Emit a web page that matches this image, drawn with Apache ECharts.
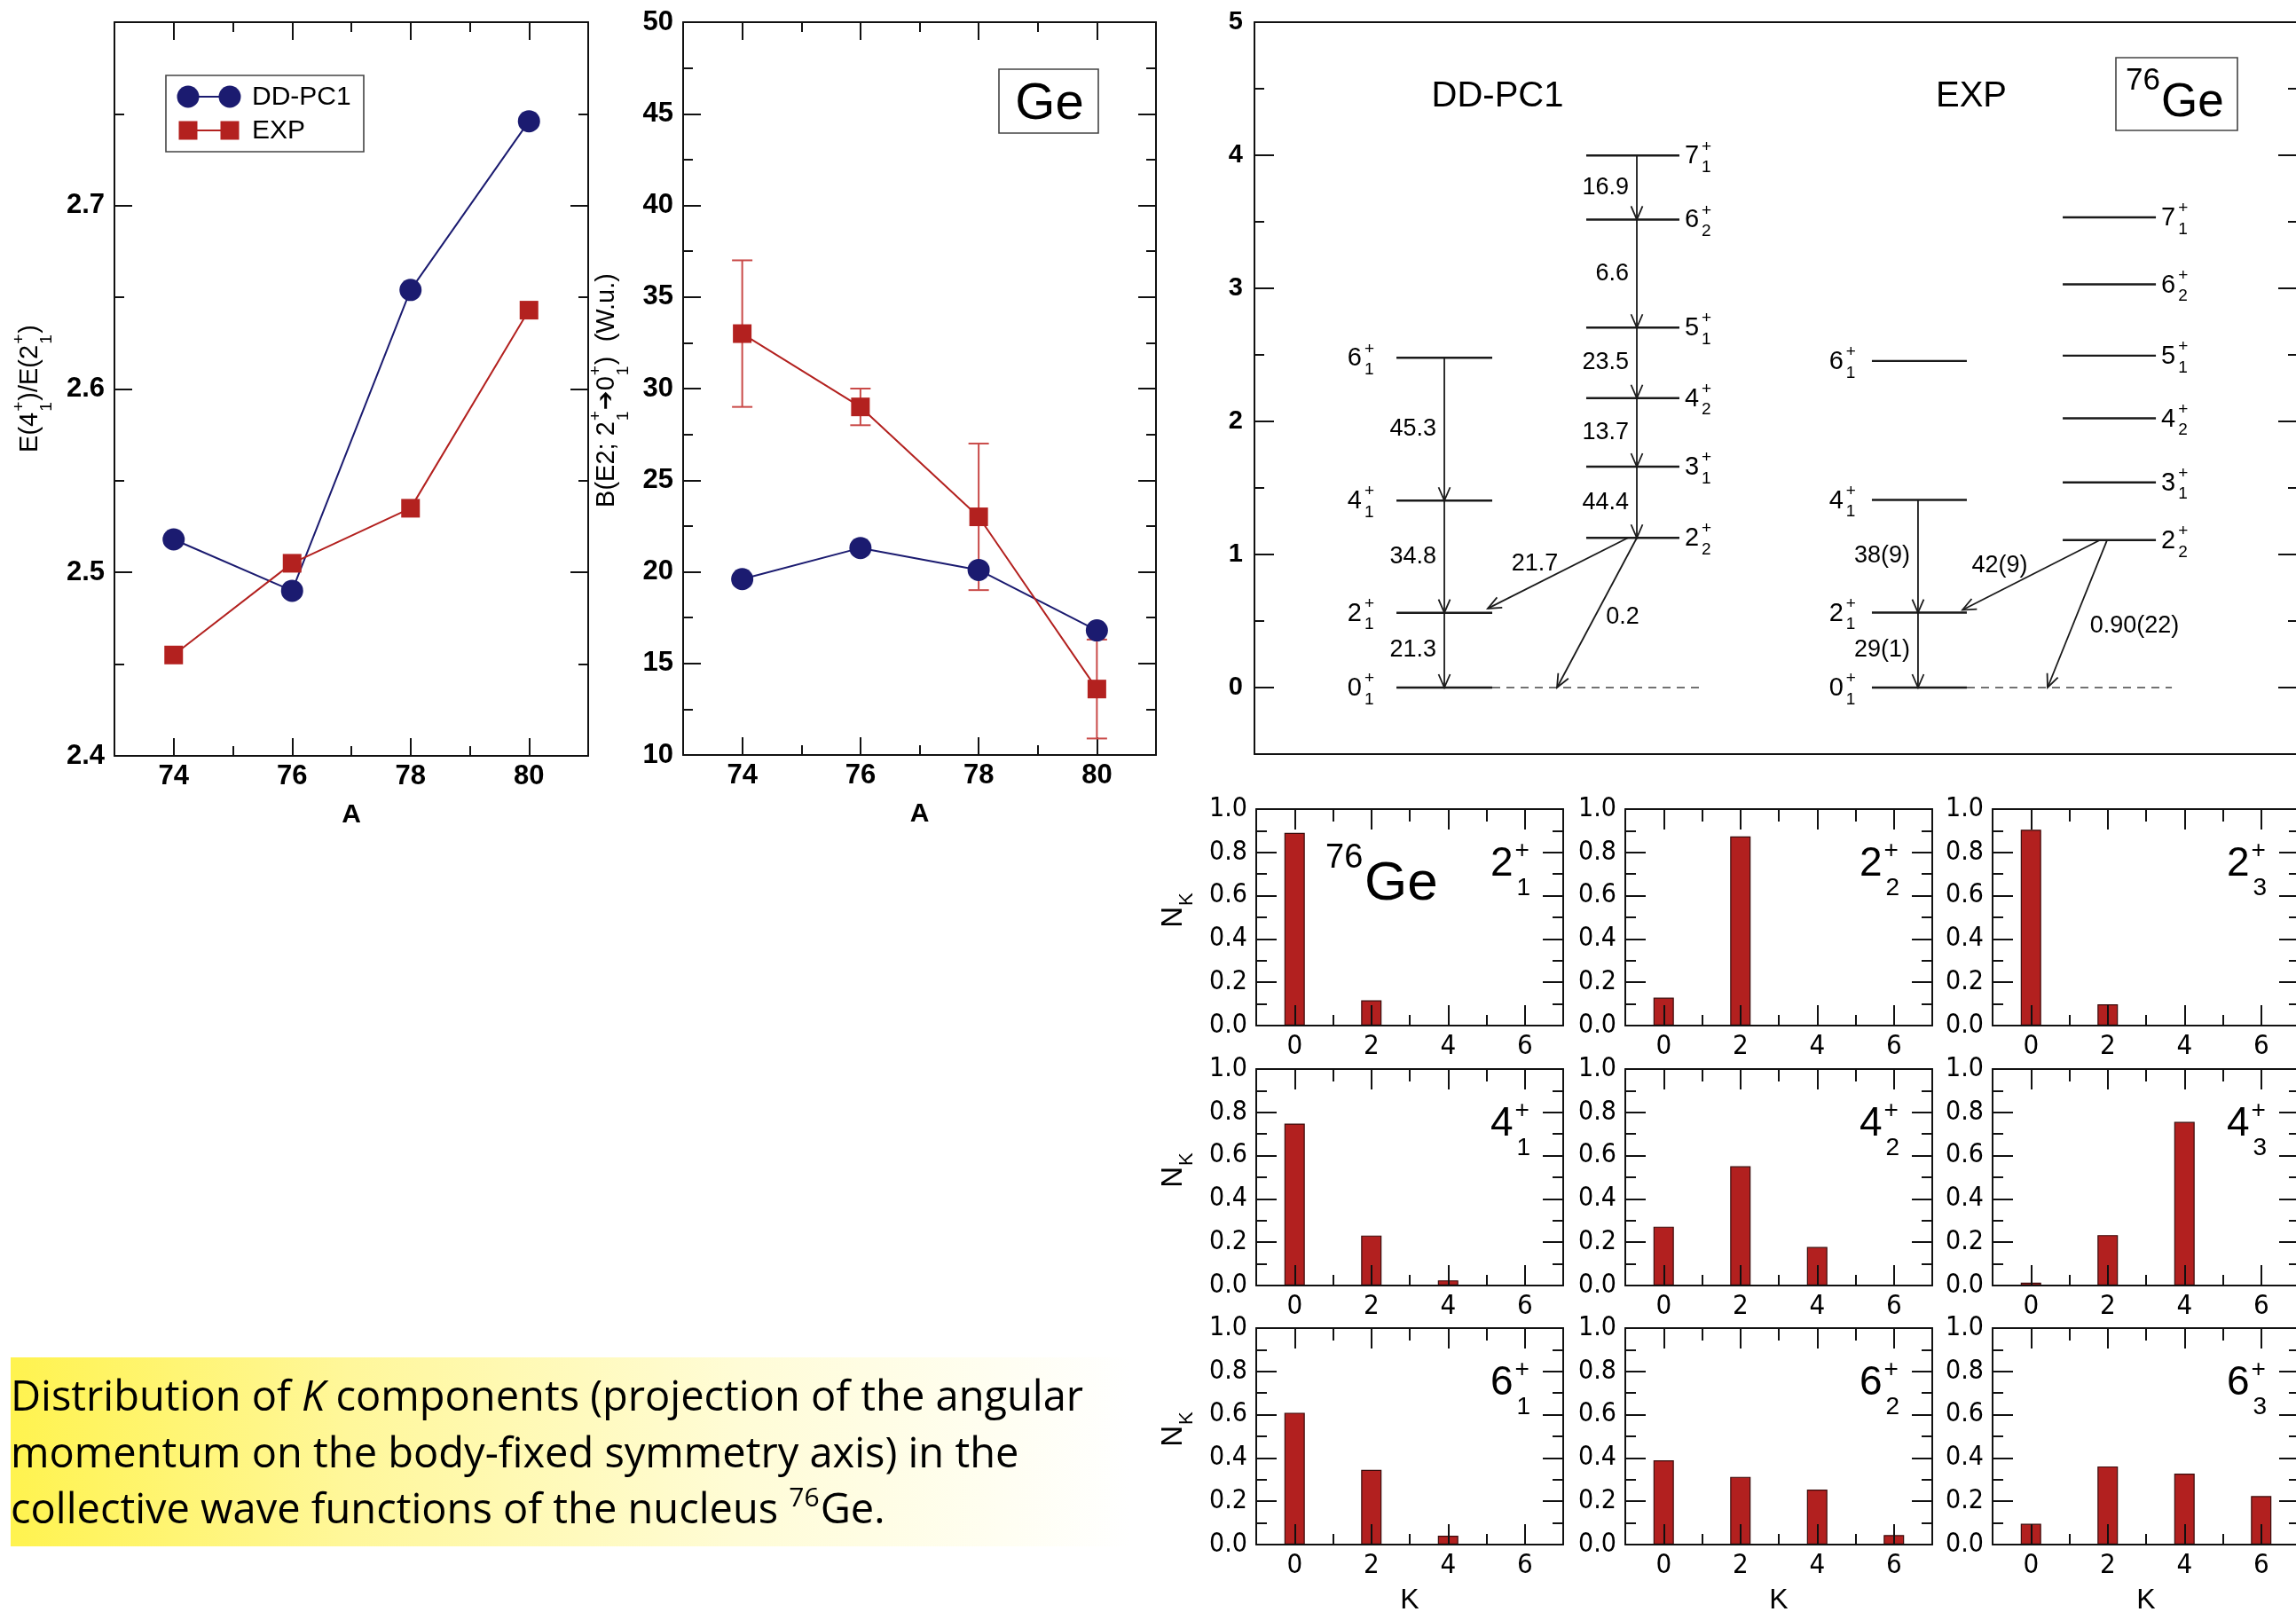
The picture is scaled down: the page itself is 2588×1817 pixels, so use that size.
<!DOCTYPE html>
<html>
<head>
<meta charset="utf-8">
<title>76Ge collective structure</title>
<script src="https://cdn.jsdelivr.net/npm/echarts@6.0.0/dist/echarts.min.js"></script>
<style>
  html, body { margin: 0; padding: 0; background: #ffffff; }
  #chart { width: 2588px; height: 1817px; }
</style>
</head>
<body>
<div id="chart"></div>
<script>
// ---------------- data ----------------
// Ge isotopes
const massNumbers = [74, 76, 78, 80];
// E(4+1)/E(2+1)
const ratioDDPC1 = [2.518, 2.490, 2.654, 2.746];
const ratioEXP   = [2.455, 2.505, 2.535, 2.643];
// B(E2; 2+1 -> 0+1) in W.u.
const be2DDPC1  = [19.6, 21.3, 20.1, 16.8];
const be2EXP    = [33.0, 29.0, 23.0, 13.6];
const be2EXPErr = [4.0, 1.0, 4.0, 2.7];

// tick labels
const massTicks   = [74, 76, 78, 80];
const massMinor   = [75, 77, 79];
const energyTicks = [0, 1, 2, 3, 4, 5];
const energyMinor = [0.5, 1.5, 2.5, 3.5, 4.5];
const kTicks      = [0, 2, 4, 6];
const kMinor      = [1, 3, 5];

// 76Ge spectrum (MeV): ground band and gamma band
const gsbSpins   = ['0', '2', '4', '6'];
const gsbIndex   = ['1', '1', '1', '1'];
const gammaSpins = ['2', '3', '4', '5', '6', '7'];
const gammaIndex = ['2', '1', '2', '1', '2', '1'];
const gsbEnergyDDPC1   = [0, 0.562, 1.405, 2.478];
const gammaEnergyDDPC1 = [1.125, 1.660, 2.175, 2.705, 3.517, 3.998];
const gsbEnergyEXP     = [0, 0.563, 1.410, 2.454];
const gammaEnergyEXP   = [1.108, 1.542, 2.023, 2.494, 3.030, 3.533];
// in-band B(E2) in W.u., each level to the one below it (lowest first)
const gsbBE2DDPC1   = ['21.3', '34.8', '45.3'];
const gammaBE2DDPC1 = ['44.4', '13.7', '23.5', '6.6', '16.9'];
const gsbBE2EXP     = ['29(1)', '38(9)'];
// decays of 2+2: to 2+1 and to 0+1
const interBE2DDPC1 = ['21.7', '0.2'];
const interBE2EXP   = ['42(9)', '0.90(22)'];

// K distributions N_K at K = 0, 2, 4, 6
const kValues = [0, 2, 4, 6];
const nK_2_1 = [0.890, 0.117, 0, 0];
const nK_2_2 = [0.129, 0.874, 0, 0];
const nK_2_3 = [0.905, 0.098, 0, 0];
const nK_4_1 = [0.748, 0.231, 0.024, 0];
const nK_4_2 = [0.272, 0.551, 0.178, 0];
const nK_4_3 = [0.013, 0.233, 0.756, 0];
const nK_6_1 = [0.609, 0.345, 0.041, 0.003];
const nK_6_2 = [0.389, 0.313, 0.254, 0.044];
const nK_6_3 = [0.096, 0.361, 0.328, 0.224];

const kPanels = [
  { values: nK_2_1, spin: '2', index: '1' },
  { values: nK_2_2, spin: '2', index: '2' },
  { values: nK_2_3, spin: '2', index: '3' },
  { values: nK_4_1, spin: '4', index: '1' },
  { values: nK_4_2, spin: '4', index: '2' },
  { values: nK_4_3, spin: '4', index: '3' },
  { values: nK_6_1, spin: '6', index: '1' },
  { values: nK_6_2, spin: '6', index: '2' },
  { values: nK_6_3, spin: '6', index: '3' }
];

// ---------------- styles & layout ----------------
const HEL  = '"Liberation Sans", Arial, Helvetica, sans-serif';
const DJC  = '"DejaVu Sans Condensed", "DejaVu Sans", sans-serif';
const CAPF = '"Open Sans", Lato, sans-serif';
const INK  = '#111111';
const NAVY = '#1b1b70';
const RED  = '#b3211f';
const LINE = { color: INK, width: 2 };

const G_RATIO = { left: 129, top: 25, width: 534, height: 827 };
const G_BE2   = { left: 770, top: 25, width: 533, height: 826 };
const G_LEVEL = { left: 1414, top: 25, width: 1176, height: 825 };
const BAR_LEFT = [1416, 1832, 2246];
const BAR_TOP  = [912, 1205, 1497];
const BAR_W = 346, BAR_H = 244;

// level-scheme columns, as fractions of the panel width
const COLS = {
  thGsb:  { x0: 0.1361, x1: 0.2279, arrow: 0.182,  side: 'left',  gap: 25 },
  thGam:  { x0: 0.3180, x1: 0.4073, arrow: 0.3665, side: 'right', gap: 6 },
  expGsb: { x0: 0.5918, x1: 0.6828, arrow: 0.636,  side: 'left',  gap: 18 },
  expGam: { x0: 0.7747, x1: 0.8640, arrow: 0.82,   side: 'right', gap: 6 }
};
const DASH_TH  = [0.2279, 0.4260];
const DASH_EXP = [0.6828, 0.8793];
// 2+2 decay arrows: start x, end x, end offset above target level, label anchor
const INTER_TH = [
  { x0: 0.358,  x1: 0.2236, lift: 0.032, lx: 0.2687, lE: 0.928 },
  { x0: 0.3665, x1: 0.2900, lift: 0,     lx: 0.3529, lE: 0.527 }
];
const INTER_EXP = [
  { x0: 0.8104, x1: 0.6786, lift: 0.02, lx: 0.7143, lE: 0.915 },
  { x0: 0.8172, x1: 0.7602, lift: 0,    lx: 0.8435, lE: 0.46 }
];

// ---------------- text helpers ----------------
const mctx = document.createElement('canvas').getContext('2d');
function measure(str, size, fam, style, weight) {
  mctx.font = (style || 'normal') + ' normal ' + (weight || 'normal') + ' ' + size + 'px ' + fam;
  return mctx.measureText(str).width;
}
function textEl(str, x, y, size, fam, extra) {
  return {
    type: 'text', x: x, y: y,
    style: Object.assign({ text: str, fill: '#000', fontSize: size, fontFamily: fam,
      align: 'left', verticalAlign: 'middle' }, extra || {})
  };
}
// run of text with stacked super/subscripts
function scriptRun(parts, o) {
  const els = [];
  let x = 0;
  parts.forEach(function (p) {
    if (p.t) {
      const size = p.size || o.size, fam = p.fam || o.fam;
      const fs = p.italic ? 'italic' : 'normal', fw = p.bold ? 'bold' : 'normal';
      els.push(textEl(p.t, x, p.dy || 0, size, fam, { fontStyle: fs, fontWeight: fw }));
      x += measure(p.t, size, fam, fs, fw);
    }
    if (p.sup || p.sub) {
      const s = o.scriptSize;
      let w = 0;
      if (p.sup) {
        els.push(textEl(p.sup, x + o.supDx, o.supDy, s, o.fam));
        w = Math.max(w, o.supDx + measure(p.sup, s, o.fam));
      }
      if (p.sub) {
        els.push(textEl(p.sub, x + o.subDx, o.subDy, s, o.fam));
        w = Math.max(w, o.subDx + measure(p.sub, s, o.fam));
      }
      x += w + (o.after || 0);
    }
  });
  return { els: els, width: x };
}
function place(run, x, y, align) {
  const dx = align === 'right' ? -run.width : (align === 'center' ? -run.width / 2 : 0);
  run.els.forEach(function (e) { e.x += x + dx; e.y += y; });
  return run.els;
}

const LEVEL_TXT = { size: 29, fam: HEL, scriptSize: 19, supDx: 3, supDy: -11, subDx: 3, subDy: 12.5 };
const PANEL_TXT = { size: 46, fam: HEL, scriptSize: 28, supDx: 2, supDy: -15, subDx: 4, subDy: 27 };
const AXNAME_TXT = { size: 29, fam: HEL, scriptSize: 19, supDx: 1, supDy: -12, subDx: 1, subDy: 19, after: 1 };

// ---------------- axes ----------------
const grids = [], xAxis = [], yAxis = [], series = [], graphic = [];

function labelCfg(o) {
  return {
    show: true, customValues: o.labels, margin: o.margin, color: '#000',
    fontSize: o.fontSize, fontFamily: o.fam, fontWeight: o.weight || 'normal', formatter: o.fmt
  };
}
function xFrame(g, min, max, o) {
  const base = { gridIndex: g, type: 'value', min: min, max: max, splitLine: { show: false }, z: o.z || 0 };
  const majorTick = o.major ? { show: true, inside: true, length: o.majorLen, customValues: o.major, lineStyle: LINE } : { show: false };
  const minorTick = { show: true, inside: true, customValues: o.minor, lineStyle: LINE };
  const main = xAxis.length;
  xAxis.push(Object.assign({}, base, {
    position: 'bottom',
    axisLine: { show: true, onZero: false, lineStyle: LINE },
    axisTick: majorTick,
    axisLabel: o.labels ? labelCfg(o) : { show: false },
    name: o.name || '', nameLocation: 'middle', nameGap: o.nameGap || 0,
    nameTextStyle: { color: '#000', fontSize: o.nameSize || 30, fontFamily: o.nameFam || HEL, fontWeight: o.nameWeight || 'normal' }
  }));
  if (o.minor) xAxis.push(Object.assign({}, base, {
    position: 'bottom', axisLine: { show: false, onZero: false },
    axisTick: Object.assign({ length: o.minorLen }, minorTick), axisLabel: { show: false }
  }));
  xAxis.push(Object.assign({}, base, {
    position: 'top', axisLine: { show: true, onZero: false, lineStyle: LINE },
    axisTick: majorTick, axisLabel: { show: false }
  }));
  if (o.minor) xAxis.push(Object.assign({}, base, {
    position: 'top', axisLine: { show: false, onZero: false },
    axisTick: Object.assign({ length: o.topMinorLen || o.minorLen }, minorTick), axisLabel: { show: false }
  }));
  return main;
}
function yFrame(g, min, max, o) {
  const base = { gridIndex: g, type: 'value', min: min, max: max, splitLine: { show: false }, z: o.z || 0 };
  if (o.interval) base.interval = o.interval;
  const majorTick = o.major
    ? { show: true, inside: true, length: o.majorLen, customValues: o.major, lineStyle: LINE }
    : { show: true, inside: true, length: o.majorLen, lineStyle: LINE };
  const minorTick = o.interval
    ? { show: true, splitNumber: 2, length: o.minorLen, lineStyle: LINE }
    : { show: false };
  const main = yAxis.length;
  const mk = function (pos, withLabels) {
    return Object.assign({}, base, {
      position: pos,
      axisLine: { show: true, onZero: false, lineStyle: LINE },
      axisTick: majorTick, minorTick: minorTick,
      axisLabel: withLabels ? labelCfg(o) : { show: false }
    });
  };
  const mkMinor = function (pos) {
    return Object.assign({}, base, {
      position: pos, axisLine: { show: false, onZero: false },
      axisTick: { show: true, inside: true, length: o.minorLen, customValues: o.minor, lineStyle: LINE },
      axisLabel: { show: false }
    });
  };
  yAxis.push(mk('left', true));
  if (o.minor) yAxis.push(mkMinor('left'));
  yAxis.push(mk('right', false));
  if (o.minor) yAxis.push(mkMinor('right'));
  return main;
}
function addGrid(r) {
  grids.push(Object.assign({ outerBoundsMode: 'none', containLabel: false }, r));
  return grids.length - 1;
}

// ---------------- panel: E(4+)/E(2+) ----------------
const gR = addGrid(G_RATIO);
const xR = xFrame(gR, 73, 81, { major: massTicks, minor: massMinor, majorLen: 20, minorLen: 11,
  labels: massTicks, margin: 8, fontSize: 31, fam: HEL, weight: 'bold', name: 'A', nameGap: 52, nameWeight: 'bold' });
const yR = yFrame(gR, 2.4, 2.8, { interval: 0.1, majorLen: 20, minorLen: 11, margin: 11, fontSize: 31, fam: HEL, weight: 'bold',
  fmt: function (v) { return v > 2.75 ? '' : v.toFixed(1); } });
series.push({
  type: 'line', xAxisIndex: xR, yAxisIndex: yR, name: 'DD-PC1',
  data: massNumbers.map(function (a, i) { return [a, ratioDDPC1[i]]; }),
  symbol: 'circle', symbolSize: 25, itemStyle: { color: NAVY }, lineStyle: { color: NAVY, width: 2 }, z: 3
});
series.push({
  type: 'line', xAxisIndex: xR, yAxisIndex: yR, name: 'EXP',
  data: massNumbers.map(function (a, i) { return [a, ratioEXP[i]]; }),
  symbol: 'rect', symbolSize: 21, itemStyle: { color: RED }, lineStyle: { color: RED, width: 2 }, z: 3
});

// ---------------- panel: B(E2) ----------------
const gB = addGrid(G_BE2);
const xB = xFrame(gB, 73, 81, { major: massTicks, minor: massMinor, majorLen: 20, minorLen: 11,
  labels: massTicks, margin: 8, fontSize: 31, fam: HEL, weight: 'bold', name: 'A', nameGap: 52, nameWeight: 'bold' });
const yB = yFrame(gB, 10, 50, { interval: 5, majorLen: 20, minorLen: 11, margin: 11, fontSize: 31, fam: HEL, weight: 'bold',
  fmt: function (v) { return String(Math.round(v)); } });
series.push({
  type: 'custom', xAxisIndex: xB, yAxisIndex: yB, z: 1, clip: false,
  data: massNumbers.map(function (a, i) { return [a, be2EXP[i] - be2EXPErr[i], be2EXP[i] + be2EXPErr[i]]; }),
  encode: { x: 0, y: [1, 2] },
  renderItem: function (params, api) {
    const x = api.value(0);
    const lo = api.coord([x, api.value(1)]), hi = api.coord([x, api.value(2)]);
    const hw = 11.5, st = { stroke: '#c94a48', lineWidth: 2 };
    return { type: 'group', children: [
      { type: 'line', shape: { x1: lo[0], y1: lo[1], x2: hi[0], y2: hi[1] }, style: st },
      { type: 'line', shape: { x1: lo[0] - hw, y1: lo[1], x2: lo[0] + hw, y2: lo[1] }, style: st },
      { type: 'line', shape: { x1: hi[0] - hw, y1: hi[1], x2: hi[0] + hw, y2: hi[1] }, style: st }
    ] };
  }
});
series.push({
  type: 'line', xAxisIndex: xB, yAxisIndex: yB, name: 'DD-PC1',
  data: massNumbers.map(function (a, i) { return [a, be2DDPC1[i]]; }),
  symbol: 'circle', symbolSize: 25, itemStyle: { color: NAVY }, lineStyle: { color: NAVY, width: 2 }, z: 3
});
series.push({
  type: 'line', xAxisIndex: xB, yAxisIndex: yB, name: 'EXP',
  data: massNumbers.map(function (a, i) { return [a, be2EXP[i]]; }),
  symbol: 'rect', symbolSize: 21, itemStyle: { color: RED }, lineStyle: { color: RED, width: 2 }, z: 3
});

// ---------------- panel: level scheme ----------------
const gL = addGrid(G_LEVEL);
const xL = xFrame(gL, 0, 1, {});
const yL = yFrame(gL, -0.5, 5, { major: energyTicks, minor: energyMinor, majorLen: 22, minorLen: 11,
  labels: energyTicks, margin: 13, fontSize: 29, fam: HEL, weight: 'bold', fmt: function (v) { return String(v); } });

const levelItems = [];
function addLevels(col, spins, idx, energies) {
  energies.forEach(function (E, i) { levelItems.push({ col: col, spin: spins[i], idx: idx[i], E: E }); });
}
addLevels('thGsb', gsbSpins, gsbIndex, gsbEnergyDDPC1);
addLevels('thGam', gammaSpins, gammaIndex, gammaEnergyDDPC1);
addLevels('expGsb', gsbSpins, gsbIndex, gsbEnergyEXP);
addLevels('expGam', gammaSpins, gammaIndex, gammaEnergyEXP);

series.push({
  type: 'custom', xAxisIndex: xL, yAxisIndex: yL, clip: false, z: 3,
  data: levelItems.map(function (l) { return [COLS[l.col].x0, l.E]; }),
  encode: { x: 0, y: 1 },
  renderItem: function (params, api) {
    const it = levelItems[params.dataIndex], c = COLS[it.col];
    const a = api.coord([c.x0, it.E]), b = api.coord([c.x1, it.E]);
    const run = scriptRun([{ t: it.spin, sup: '+', sub: it.idx }], LEVEL_TXT);
    if (c.side === 'left') place(run, a[0] - c.gap, a[1] + 1, 'right');
    else place(run, b[0] + c.gap, b[1] + 1, 'left');
    return { type: 'group', children: [
      { type: 'line', shape: { x1: a[0], y1: a[1], x2: b[0], y2: b[1] }, style: { stroke: '#1a1a1a', lineWidth: 2.4 } }
    ].concat(run.els) };
  }
});
// ground-state reference lines
const dashItems = [DASH_TH, DASH_EXP];
series.push({
  type: 'custom', xAxisIndex: xL, yAxisIndex: yL, clip: false, z: 2,
  data: dashItems.map(function (d) { return [d[0], 0, d[1]]; }),
  encode: { x: 0, y: 1 },
  renderItem: function (params, api) {
    const a = api.coord([api.value(0), api.value(1)]), b = api.coord([api.value(2), api.value(1)]);
    return { type: 'line', shape: { x1: a[0], y1: a[1], x2: b[0], y2: b[1] },
      style: { stroke: '#444', lineWidth: 1.6, lineDash: [9, 7] } };
  }
});

// transitions
const transitions = [];
function bandArrows(col, energies, labels) {
  const c = COLS[col];
  labels.forEach(function (txt, i) {
    transitions.push({ x0: c.arrow, E0: energies[i + 1], x1: c.arrow, E1: energies[i], text: txt });
  });
}
bandArrows('thGsb', gsbEnergyDDPC1, gsbBE2DDPC1);
bandArrows('thGam', gammaEnergyDDPC1, gammaBE2DDPC1);
bandArrows('expGsb', gsbEnergyEXP, gsbBE2EXP);
function interArrows(geo, from, targets, labels) {
  geo.forEach(function (g, i) {
    transitions.push({ x0: g.x0, E0: from, x1: g.x1, E1: targets[i] + g.lift, text: labels[i], lx: g.lx, lE: g.lE });
  });
}
interArrows(INTER_TH, gammaEnergyDDPC1[0], [gsbEnergyDDPC1[1], gsbEnergyDDPC1[0]], interBE2DDPC1);
interArrows(INTER_EXP, gammaEnergyEXP[0], [gsbEnergyEXP[1], gsbEnergyEXP[0]], interBE2EXP);

series.push({
  type: 'custom', xAxisIndex: xL, yAxisIndex: yL, clip: false, z: 4,
  data: transitions.map(function (t) { return [t.x0, t.E0, t.x1, t.E1]; }),
  encode: { x: [0, 2], y: [1, 3] },
  renderItem: function (params, api) {
    const t = transitions[params.dataIndex];
    const p0 = api.coord([t.x0, t.E0]), p1 = api.coord([t.x1, t.E1]);
    const dx = p1[0] - p0[0], dy = p1[1] - p0[1], len = Math.hypot(dx, dy);
    const ux = dx / len, uy = dy / len, L = 15, W = 6.5;
    const hx = p1[0] - ux * L, hy = p1[1] - uy * L;
    const st = { stroke: '#1a1a1a', lineWidth: 1.8, fill: null };
    let label;
    if (t.lx == null) {
      label = textEl(t.text, p0[0] - 9, (p0[1] + p1[1]) / 2, 27, HEL, { align: 'right' });
    } else {
      const q = api.coord([t.lx, t.lE]);
      label = textEl(t.text, q[0], q[1], 27, HEL, { align: 'center' });
    }
    return { type: 'group', children: [
      { type: 'line', shape: { x1: p0[0], y1: p0[1], x2: p1[0], y2: p1[1] }, style: st },
      { type: 'polyline', shape: { points: [[hx - uy * W, hy + ux * W], [p1[0], p1[1]], [hx + uy * W, hy - ux * W]] }, style: st },
      label
    ] };
  }
});

// ---------------- panels: K distributions ----------------
kPanels.forEach(function (p, i) {
  const r = Math.floor(i / 3), c = i % 3;
  const g = addGrid({ left: BAR_LEFT[c], top: BAR_TOP[r], width: BAR_W, height: BAR_H });
  const xi = xFrame(g, -1, 7, { major: kTicks, minor: kMinor, majorLen: 23, minorLen: 12, topMinorLen: 14,
    labels: kTicks, margin: 8, fontSize: 31, fam: DJC, z: 5,
    name: r === 2 ? 'K' : '', nameGap: 47, nameSize: 32 });
  const yi = yFrame(g, 0, 1, { interval: 0.2, majorLen: 23, minorLen: 12, margin: 10, fontSize: 30, fam: DJC, z: 5,
    fmt: function (v) { return v.toFixed(1); } });
  series.push({
    type: 'bar', xAxisIndex: xi, yAxisIndex: yi, barWidth: 23, z: 2,
    data: kValues.map(function (k, j) { return [k, p.values[j]]; }),
    itemStyle: { color: '#b2201f', borderColor: '#3b0c0c', borderWidth: 1.2 }
  });
  const right = BAR_LEFT[c] + BAR_W, top = BAR_TOP[r];
  graphic.push({ type: 'group', children: place(scriptRun([{ t: p.spin, sup: '+', sub: p.index }], PANEL_TXT), right - 82, top + 62, 'left') });
});

// ---------------- annotations ----------------
// legend
graphic.push({ type: 'rect', shape: { x: 187, y: 85, width: 223, height: 86 }, style: { fill: '#fff', stroke: '#444', lineWidth: 1.6 } });
graphic.push({ type: 'line', shape: { x1: 212, y1: 109, x2: 259, y2: 109 }, style: { stroke: NAVY, lineWidth: 2 } });
graphic.push({ type: 'circle', shape: { cx: 212, cy: 109, r: 12.5 }, style: { fill: NAVY } });
graphic.push({ type: 'circle', shape: { cx: 259, cy: 109, r: 12.5 }, style: { fill: NAVY } });
graphic.push(textEl('DD-PC1', 284, 110, 30, HEL));
graphic.push({ type: 'line', shape: { x1: 212, y1: 147, x2: 259, y2: 147 }, style: { stroke: RED, lineWidth: 2 } });
graphic.push({ type: 'rect', shape: { x: 201.5, y: 136.5, width: 21, height: 21 }, style: { fill: RED } });
graphic.push({ type: 'rect', shape: { x: 248.5, y: 136.5, width: 21, height: 21 }, style: { fill: RED } });
graphic.push(textEl('EXP', 284, 148, 30, HEL));

// y-axis names
graphic.push({ type: 'group', x: 34, y: 438, rotation: Math.PI / 2,
  children: place(scriptRun([{ t: 'E(4' }, { sup: '+', sub: '1' }, { t: ')/E(2' }, { sup: '+', sub: '1' }, { t: ')' }], AXNAME_TXT), 0, 0, 'center') });
graphic.push({ type: 'group', x: 684, y: 440, rotation: Math.PI / 2,
  children: place(scriptRun([{ t: 'B(E2; 2' }, { sup: '+', sub: '1' }, { t: '\u2794', fam: '"DejaVu Sans", sans-serif', size: 26, bold: true }, { t: '0' }, { sup: '+', sub: '1' }, { t: ')  (W.u.)' }], AXNAME_TXT), 0, 0, 'center') });
[0, 1, 2].forEach(function (r) {
  graphic.push({ type: 'group', x: 1323, y: BAR_TOP[r] + BAR_H / 2 - 8, rotation: Math.PI / 2,
    children: place(scriptRun([{ t: 'N' }, { sub: 'K' }], { size: 33, fam: HEL, scriptSize: 22, supDx: 0, supDy: 0, subDx: 1, subDy: 15 }), 0, 0, 'center') });
});

// element boxes
graphic.push({ type: 'rect', shape: { x: 1126, y: 78, width: 112, height: 72 }, style: { fill: '#fff', stroke: '#444', lineWidth: 1.6 } });
graphic.push(textEl('Ge', 1183, 118, 58, HEL, { align: 'center' }));
graphic.push({ type: 'rect', shape: { x: 2385, y: 65, width: 137, height: 82 }, style: { fill: '#fff', stroke: '#444', lineWidth: 1.6 } });
graphic.push(textEl('76', 2396, 91, 35, HEL));
graphic.push(textEl('Ge', 2436, 116, 53, HEL));
graphic.push(textEl('DD-PC1', 1688, 109, 40, HEL, { align: 'center' }));
graphic.push(textEl('EXP', 2222, 109, 40, HEL, { align: 'center' }));
graphic.push(textEl('76', 1494, 968, 38, HEL));
graphic.push(textEl('Ge', 1538, 997, 62, HEL));

// caption
graphic.push({ type: 'rect', shape: { x: 12, y: 1530, width: 1262, height: 213 },
  style: { fill: new echarts.graphic.LinearGradient(0, 0, 1, 0, [
    { offset: 0, color: '#fff34f' }, { offset: 0.3, color: '#fff79a' },
    { offset: 0.65, color: '#fffcd6' }, { offset: 1, color: '#ffffff' }]) } });
const CAP_TXT = { size: 47, fam: CAPF, scriptSize: 30, supDx: 0, supDy: -15, subDx: 0, subDy: 0, after: 1 };
graphic.push({ type: 'group', children: place(scriptRun([{ t: 'Distribution of ' }, { t: 'K', italic: true }, { t: ' components (projection of the angular' }], CAP_TXT), 12, 1577, 'left') });
graphic.push({ type: 'group', children: place(scriptRun([{ t: 'momentum on the body-fixed symmetry axis) in the' }], CAP_TXT), 12, 1641, 'left') });
graphic.push({ type: 'group', children: place(scriptRun([{ t: 'collective wave functions of the nucleus ' }, { sup: '76' }, { t: 'Ge.' }], CAP_TXT), 12, 1704, 'left') });

// ---------------- chart ----------------
const chart = echarts.init(document.getElementById('chart'), null, { renderer: 'canvas' });
chart.setOption({
  animation: false,
  backgroundColor: '#ffffff',
  textStyle: { fontFamily: HEL },
  grid: grids,
  xAxis: xAxis,
  yAxis: yAxis,
  series: series,
  graphic: { elements: graphic }
});
</script>
</body>
</html>
